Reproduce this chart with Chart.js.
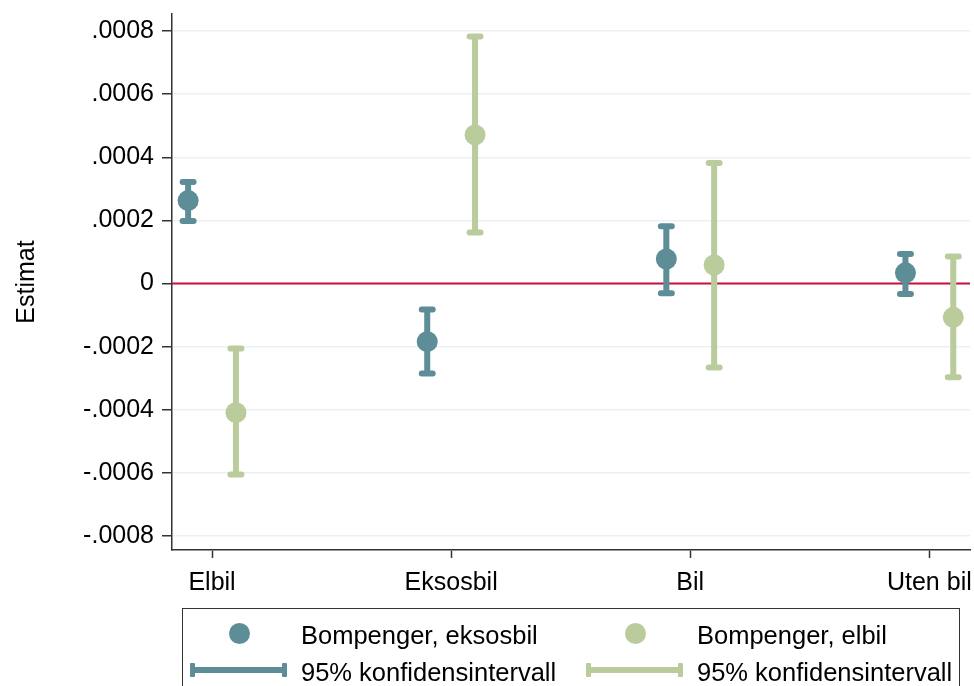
<!DOCTYPE html>
<html>
<head>
<meta charset="utf-8">
<script src="https://cdn.jsdelivr.net/npm/chart.js@4.4.1/dist/chart.umd.min.js"></script>
<style>
  body { margin: 0; background: #fff; font-family: 'Liberation Sans', Arial, sans-serif; }
  #wrap { position: relative; width: 974px; height: 686px; overflow: hidden; }
  #legend { position: absolute; left: 182px; top: 608px; width: 778px; height: 100px; border: 1.5px solid #333; box-sizing: border-box; }
  .dot { position: absolute; width: 21px; height: 21px; border-radius: 50%; }
  .bar { position: absolute; height: 6px; }
  .cap { position: absolute; width: 5px; height: 14px; top: -4px; border-radius: 1px; }
  .txt { position: absolute; font-size: 25.5px; color: #000; line-height: 28px; white-space: nowrap; }
</style>
</head>
<body>
<div id="wrap">
  <canvas id="chart"></canvas>
  <div id="legend"></div>
</div>
<script>
const categories = ['Elbil', 'Eksosbil', 'Bil', 'Uten bil']

const eksosbilEstimate = [0.000263, -0.000184, 0.000078, 0.000034]
const eksosbilLower = [0.000198, -0.000285, -0.000031, -0.000033]
const eksosbilUpper = [0.000322, -0.000082, 0.000182, 0.000094]

const elbilEstimate = [-0.000409, 0.000471, 0.000059, -0.000107]
const elbilLower = [-0.000605, 0.000162, -0.000266, -0.000297]
const elbilUpper = [-0.000206, 0.000783, 0.000382, 0.000086]

const yTicks = [-0.0008, -0.0006, -0.0004, -0.0002, 0, 0.0002, 0.0004, 0.0006, 0.0008]
const yTickLabels = ['-.0008', '-.0006', '-.0004', '-.0002', '0', '.0002', '.0004', '.0006', '.0008']

const series = [
  { label: 'Bompenger, eksosbil', color: '#5d8d97', offset: -0.1, est: eksosbilEstimate, lo: eksosbilLower, hi: eksosbilUpper },
  { label: 'Bompenger, elbil', color: '#bacb9c', offset: 0.1, est: elbilEstimate, lo: elbilLower, hi: elbilUpper }
]
const ciLabel = '95% konfidensintervall'

Chart.defaults.font.family = "'Liberation Sans', Arial, sans-serif"

const errorBars = {
  id: 'errorBars',
  beforeDatasetsDraw(chart) {
    const { ctx, chartArea, scales: { x, y } } = chart
    ctx.save()
    const y0 = y.getPixelForValue(0)
    ctx.strokeStyle = '#c8103c'
    ctx.lineWidth = 2
    ctx.beginPath()
    ctx.moveTo(chartArea.left, y0)
    ctx.lineTo(chartArea.right, y0)
    ctx.stroke()

    ctx.lineCap = 'round'
    chart.data.datasets.forEach((ds) => {
      ctx.strokeStyle = ds.backgroundColor
      ctx.lineWidth = 6
      ds.data.forEach((p) => {
        const px = x.getPixelForValue(p.x)
        const top = y.getPixelForValue(p.hi)
        const bottom = y.getPixelForValue(p.lo)
        ctx.beginPath()
        ctx.moveTo(px, top)
        ctx.lineTo(px, bottom)
        ctx.moveTo(px - 5.5, top)
        ctx.lineTo(px + 5.5, top)
        ctx.moveTo(px - 5.5, bottom)
        ctx.lineTo(px + 5.5, bottom)
        ctx.stroke()
      })
    })
    ctx.restore()
  }
}

new Chart(document.getElementById('chart'), {
  type: 'scatter',
  data: {
    datasets: series.map((s) => ({
      label: s.label,
      backgroundColor: s.color,
      borderWidth: 0,
      pointRadius: 10.5,
      pointHoverRadius: 10.5,
      data: s.est.map((v, i) => ({ x: i + 1 + s.offset, y: v, lo: s.lo[i], hi: s.hi[i] }))
    }))
  },
  options: {
    responsive: true,
    maintainAspectRatio: false,
    animation: false,
    layout: { autoPadding: false, padding: { top: 14, right: 4, bottom: 86, left: 0 } },
    plugins: {
      legend: { display: false },
      tooltip: { enabled: false }
    },
    scales: {
      x: {
        type: 'linear',
        min: 0.8326,
        max: 4.17,
        afterBuildTicks: (scale) => {
          scale.ticks = categories.map((c, i) => ({ value: i + 1 }))
        },
        afterFit: (scale) => {
          scale.height = 50
          scale.paddingLeft = 0
          scale.paddingRight = 0
        },
        ticks: {
          callback: (value, index) => categories[index],
          color: '#000',
          font: { size: 25 },
          padding: 10,
          maxRotation: 0
        },
        grid: { drawOnChartArea: false, tickLength: 8, tickColor: '#333', tickWidth: 1.5 },
        border: { color: '#333', width: 1.5 }
      },
      y: {
        min: -0.000844,
        max: 0.000854,
        afterBuildTicks: (scale) => {
          scale.ticks = yTicks.map((v) => ({ value: v }))
        },
        afterFit: (scale) => {
          scale.width = 172
          scale.paddingTop = 0
          scale.paddingBottom = 0
        },
        ticks: {
          callback: (value, index) => yTickLabels[index],
          color: '#000',
          font: { size: 25 },
          padding: 8
        },
        grid: { color: '#e9f1f3', lineWidth: 1.5, tickLength: 10, tickColor: '#333', tickWidth: 1.5 },
        border: { color: '#333', width: 1.5 },
        title: {
          display: true,
          text: 'Estimat',
          color: '#000',
          font: { size: 25 },
          padding: { top: 12, bottom: 0 }
        }
      }
    }
  },
  plugins: [errorBars]
})

// legend: two columns, marker row and CI row
const legend = document.getElementById('legend')
const cols = [{ dot: 56, bar: 7, txt: 118 }, { dot: 452, bar: 403, txt: 514 }]
series.forEach((s, i) => {
  const c = cols[i]
  legend.insertAdjacentHTML('beforeend',
    `<div class="dot" style="left:${c.dot - 10.5}px;top:${24 - 10.5}px;background:${s.color}"></div>` +
    `<div class="txt" style="left:${c.txt}px;top:${26 - 14}px">${s.label}</div>` +
    `<div class="bar" style="left:${c.bar}px;top:${61 - 3}px;width:97px;background:${s.color}">` +
      `<div class="cap" style="left:0;background:${s.color}"></div>` +
      `<div class="cap" style="right:0;background:${s.color}"></div></div>` +
    `<div class="txt" style="left:${c.txt}px;top:${63 - 14}px">${ciLabel}</div>`)
})
</script>
</body>
</html>
